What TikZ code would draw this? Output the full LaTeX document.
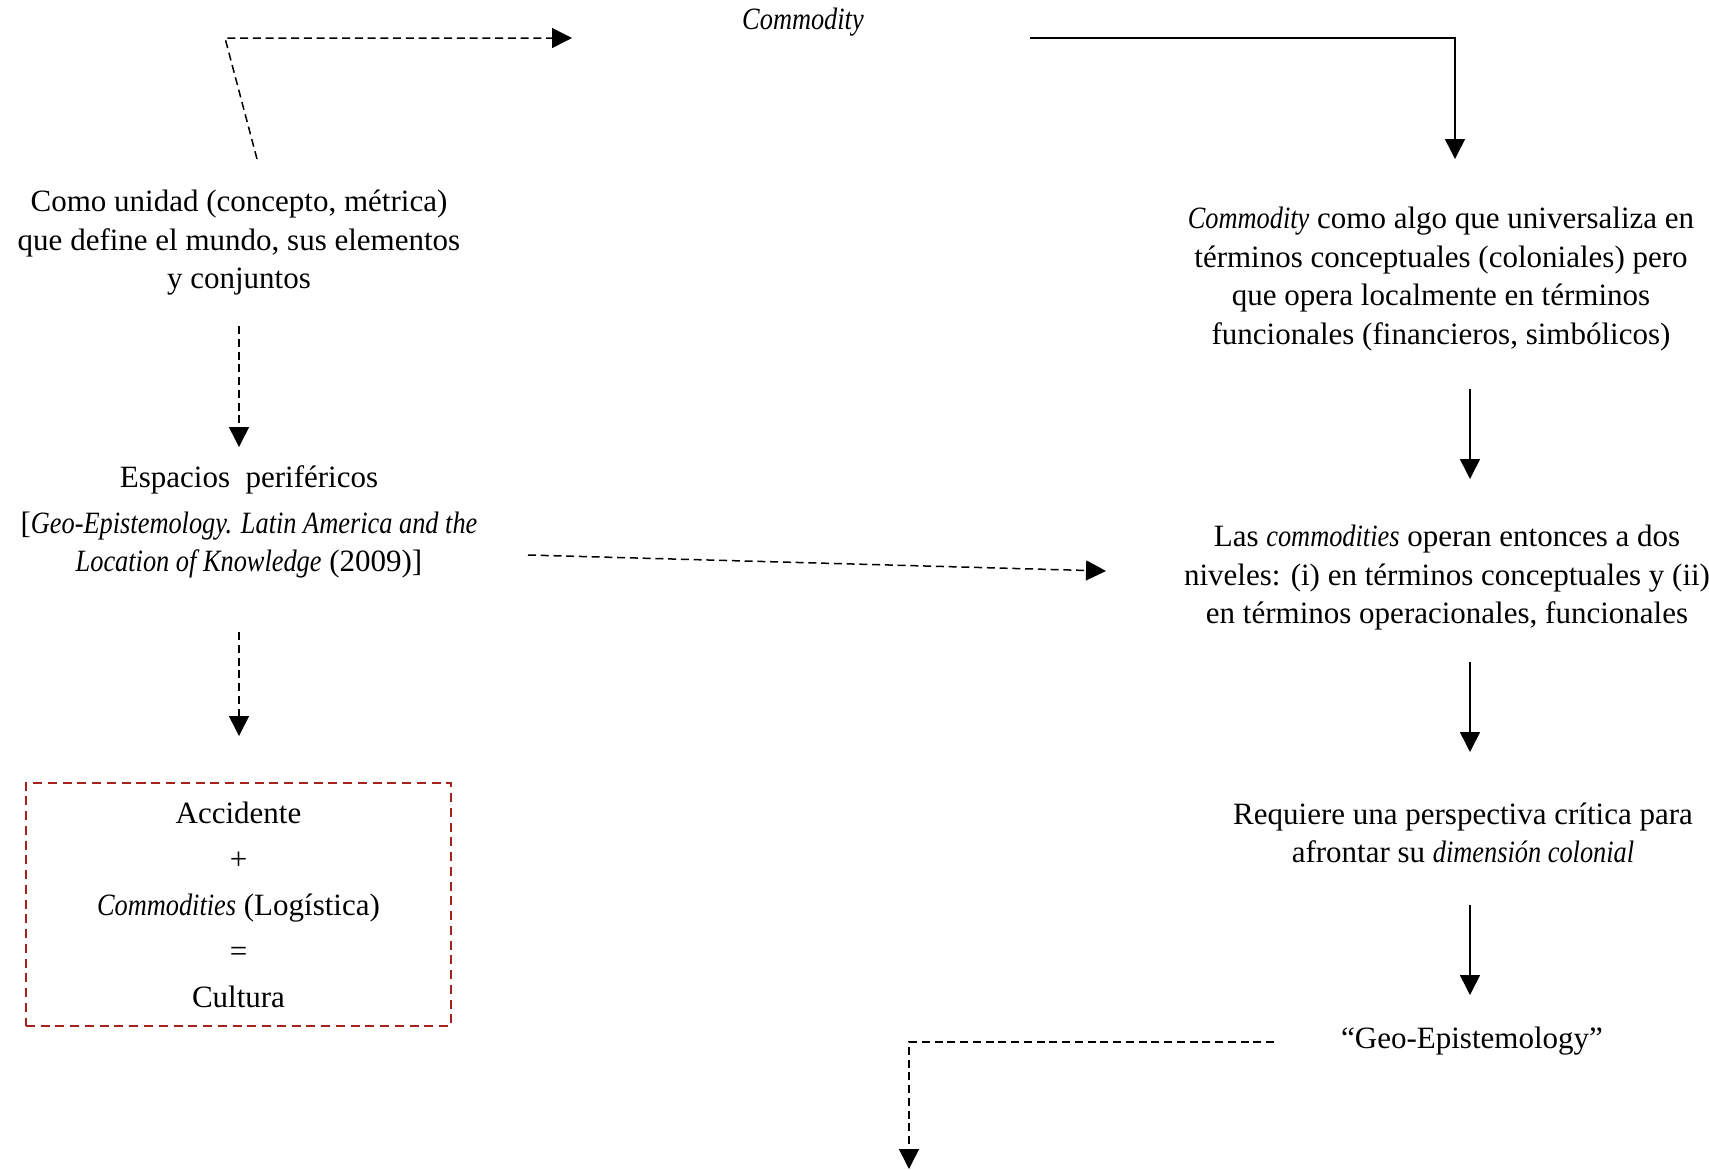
\documentclass[tikz,border=0pt]{standalone}
\usepackage{fontspec}
\setmainfont[ItalicFeatures={FakeStretch=0.85}]{Liberation Serif}
\usepackage{tikz}
\usetikzlibrary{positioning, arrows.meta}
\usepackage{xcolor}
\definecolor{boxred}{RGB}{165,35,30}

\begin{document}
\begin{tikzpicture}[
    x=0.4pt, y=-0.4pt,
    txt/.style={align=center, inner sep=0pt, font=\fontsize{12.4}{15.4}\selectfont},
    redbox/.style={draw=boxred, dash pattern=on 3.6pt off 2.3pt, line width=0.8pt, minimum width=170pt, minimum height=97.2pt, align=center, font=\fontsize{12.4}{18.4}\selectfont},
    arrow/.style={-{Triangle[length=8pt, width=8pt]}, line width=0.6pt},
    dasharrow/.style={arrow, dash pattern=on 3.2pt off 1.9pt},
    dashline/.style={line width=0.6pt, dash pattern=on 3.2pt off 1.9pt}
]
\useasboundingbox (0,0) rectangle (1709,1169);
% Texts
\node[txt] (commodity) at (803,22) {\textit{Commodity}};
\node[txt] (unidad) at (239,243) {Como unidad (concepto, métrica)\\que define el mundo, sus elementos\\y conjuntos};
\node[txt] (espacios) at (249,522) {Espacios\ \ periféricos\\[3pt]{}[\textit{Geo-Epistemology. Latin America and the}\\\textit{Location of Knowledge} (2009)]};
\node[redbox] (cultura) at (238.5,904.5) {Accidente\\+\\\textit{Commodities} (Logística)\\=\\Cultura};
\node[txt] (universal) at (1441,279) {\textit{Commodity} como algo que universaliza en\\términos conceptuales (coloniales) pero\\que opera localmente en términos\\funcionales (financieros, simbólicos)};
\node[txt] (niveles) at (1447,578) {Las \textit{commodities} operan entonces a dos\\niveles: (i) en términos conceptuales y (ii)\\en términos operacionales, funcionales};
\node[txt] (critica) at (1463,833) {Requiere una perspectiva crítica para\\afrontar su \textit{dimensión colonial}};
\node[txt] (geo) at (1472,1041) {“Geo-Epistemology”};

% Arrow ends
\coordinate (unidadtop) at (257,159);
\coordinate (bendtl) at (225,38);
\coordinate (tocommodity) at (572,38);
\coordinate (fromcommodity) at (1030,38);
\coordinate (bendtr) at (1455,38);
\coordinate (touniversal) at (1455,159);
\coordinate (unidadbot) at (239,326);
\coordinate (toespacios) at (239,447);
\coordinate (espaciosbot) at (239,632);
\coordinate (tocultura) at (239,736);
\coordinate (espaciosright) at (528,555);
\coordinate (toniveles) at (1106,571);
\coordinate (universalbot) at (1470,389);
\coordinate (tonivelestop) at (1470,479);
\coordinate (nivelesbot) at (1470,662);
\coordinate (tocritica) at (1470,752);
\coordinate (criticabot) at (1470,905);
\coordinate (togeo) at (1470,995);
\coordinate (geoleft) at (1274,1042);
\coordinate (bendbl) at (909,1042);
\coordinate (bottom) at (909,1169);

% Arrows
\draw[dasharrow] (unidadtop) -- (bendtl) -- (tocommodity);
\draw[arrow] (fromcommodity) -- (bendtr) -- (touniversal);
\draw[dasharrow] (unidadbot) -- (toespacios);
\draw[dasharrow] (espaciosbot) -- (tocultura);
\draw[dasharrow] (espaciosright) -- (toniveles);
\draw[arrow] (universalbot) -- (tonivelestop);
\draw[arrow] (nivelesbot) -- (tocritica);
\draw[arrow] (criticabot) -- (togeo);
\draw[dasharrow] (geoleft) -- (bendbl) -- (bottom);
\end{tikzpicture}
\end{document}
